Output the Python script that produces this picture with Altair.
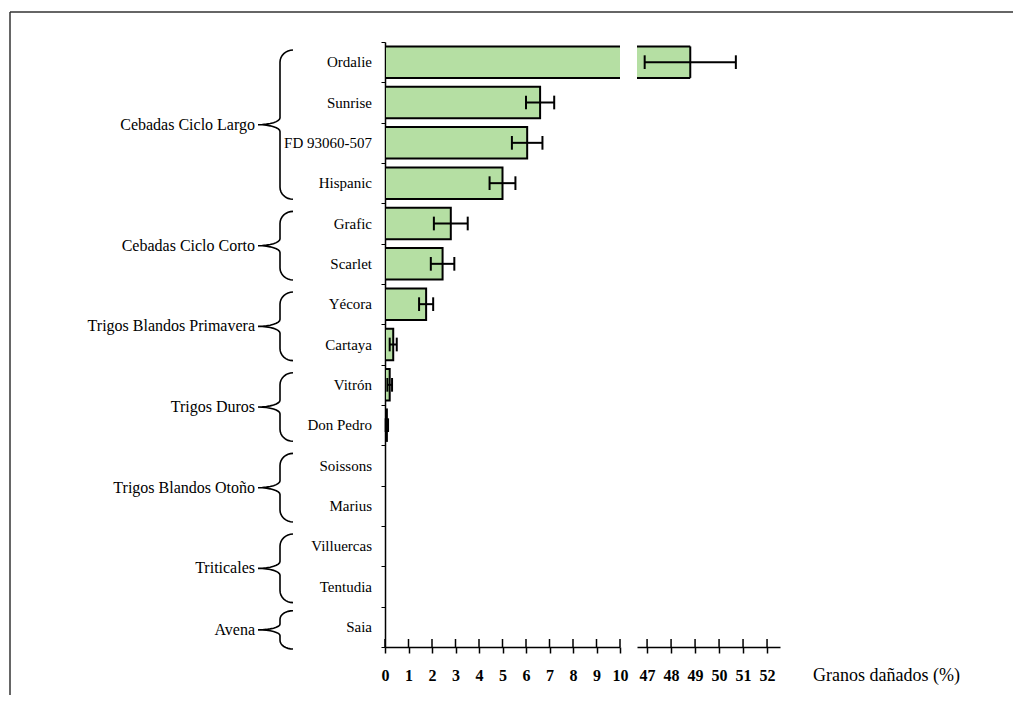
import altair as alt
import pandas as pd
import numpy as np

# ---------------- data ----------------
categories = ["Ordalie", "Sunrise", "FD 93060-507", "Hispanic", "Grafic", "Scarlet",
              "Yécora", "Cartaya", "Vitrón", "Don Pedro", "Soissons", "Marius",
              "Villuercas", "Tentudia", "Saia"]
values = [48.8, 6.6, 6.05, 5.0, 2.8, 2.45, 1.75, 0.35, 0.2, 0.08, 0, 0, 0, 0, 0]
errors = [1.9, 0.6, 0.65, 0.55, 0.72, 0.5, 0.3, 0.15, 0.1, 0.05, 0, 0, 0, 0, 0]
group_names = ["Cebadas Ciclo Largo", "Cebadas Ciclo Corto", "Trigos Blandos Primavera",
               "Trigos Duros", "Trigos Blandos Otoño", "Triticales", "Avena"]
group_sizes = [4, 2, 2, 2, 2, 2, 1]
left_ticks = list(range(0, 11))
right_ticks = list(range(47, 53))
x_title = "Granos dañados (%)"

# ---------------- layout ----------------
L_LO, L_HI = 0, 10
R_LO, R_HI = 46.58, 52.54
H = 605
W0, W1, W2 = 358, 235, 143
FONT = "Liberation Serif, Times New Roman, Times, serif"
GREEN = "#b5dfa3"
N = len(categories)

df = pd.DataFrame({"cat": categories, "val": values, "err": errors})
df["i"] = np.arange(N)
df["y0"] = df.i + 0.11
df["y1"] = df.i + 0.89
df["yc"] = df.i + 0.5
df["c0"] = df.i + 0.33
df["c1"] = df.i + 0.67
df["lo"] = df.val - df.err
df["hi"] = df.val + df.err

yscale = alt.Scale(domain=[0, N], reverse=True, nice=False, zero=False)

# ---------- left panel: group labels + braces + frame ----------
XR, XB, XT = 283, 270, 248
brace_rows = []
group_rows = []
start = 0
for g, n in zip(group_names, group_sizes):
    if n > 1:
        top, bot = start + 0.2, start + n - 0.1
    else:
        top, bot = start + 0.1, start + n + 0.05
    mid = (top + bot) / 2
    half = (bot - top) / 2
    r1 = min(0.3, half * 0.45)
    r2 = min(0.17, half * 0.3)
    pts = []
    for th in np.linspace(0, np.pi / 2, 9):
        pts.append((XR - (XR - XB) * np.sin(th), top + r1 - r1 * np.cos(th)))
    for th in np.linspace(0, np.pi / 2, 9):
        pts.append((XT + (XB - XT) * np.cos(th), mid - r2 + r2 * np.sin(th)))
    lower = [(x, 2 * mid - y) for (x, y) in reversed(pts)]
    pts = pts + lower[1:]
    for k, (x, y) in enumerate(pts):
        brace_rows.append({"g": g, "k": k, "bx": x, "by": y})
    group_rows.append({"g": g, "gy": mid})
    start += n

braces = pd.DataFrame(brace_rows)
groups = pd.DataFrame(group_rows)

bscale = alt.Scale(domain=[0, W0], nice=False, zero=False)

brace_layer = alt.Chart(braces).mark_line(color="black", strokeWidth=1.6).encode(
    x=alt.X("bx:Q", scale=bscale, axis=None),
    y=alt.Y("by:Q", scale=yscale, axis=None),
    detail="g:N",
    order="k:Q",
)
group_text = alt.Chart(groups).mark_text(
    align="right", baseline="middle", font=FONT, fontSize=16, color="black"
).encode(
    x=alt.value(245),
    y=alt.Y("gy:Q", scale=yscale, axis=None),
    text="g:N",
)
frame_df = pd.DataFrame({"f": [0]})
frame_left = alt.Chart(frame_df).mark_rule(color="#333333", strokeWidth=1.5).encode(
    x=alt.value(0), y=alt.value(-30), y2=alt.value(H + 48)
)
frame_top = alt.Chart(frame_df).mark_rule(color="#333333", strokeWidth=1.5).encode(
    x=alt.value(0), x2=alt.value(1003), y=alt.value(-30)
)
p0 = alt.layer(brace_layer, group_text, frame_left, frame_top).properties(width=W0, height=H)

# ---------- middle panel: 0-10 ----------
yaxis = alt.Axis(values=list(range(N + 1)), labels=False, title=None, grid=False,
                 tickSize=4, tickWidth=1, domainWidth=1.5, domainColor="black", tickColor="black")


def xaxis(vals):
    return alt.Axis(values=vals, title=None, grid=False, tickSize=6, tickWidth=1.5,
                    domainWidth=1.5, domainColor="black", tickColor="black",
                    labelFont=FONT, labelFontSize=16, labelFontWeight="bold",
                    labelColor="black", labelPadding=14, labelFlush=False, labelOverlap=False)


xs1 = alt.Scale(domain=[L_LO, L_HI], nice=False, zero=False)
ax1 = xaxis(left_ticks)

d1 = df[df.val > 0].copy()
d1["x0"] = L_LO
bars1 = alt.Chart(d1).mark_rect(fill=GREEN, stroke="black", strokeWidth=2, clip=True).encode(
    x=alt.X("x0:Q", scale=xs1, axis=ax1),
    x2="val:Q",
    y=alt.Y("y0:Q", scale=yscale, axis=yaxis),
    y2="y1:Q",
)
e1 = df[(df.err > 0) & (df.hi <= L_HI)]
err1 = alt.Chart(e1).mark_rule(color="black", strokeWidth=2).encode(
    x=alt.X("lo:Q", scale=xs1, axis=ax1), x2="hi:Q",
    y=alt.Y("yc:Q", scale=yscale, axis=yaxis),
)
caps1 = e1.melt(id_vars=["c0", "c1"], value_vars=["lo", "hi"], value_name="cx")
cap1 = alt.Chart(caps1).mark_rule(color="black", strokeWidth=2).encode(
    x=alt.X("cx:Q", scale=xs1, axis=ax1),
    y=alt.Y("c0:Q", scale=yscale, axis=yaxis), y2="c1:Q",
)
labels = alt.Chart(df).mark_text(
    align="right", baseline="middle", font=FONT, fontSize=15, color="black"
).encode(
    x=alt.value(-13),
    y=alt.Y("yc:Q", scale=yscale, axis=yaxis),
    text="cat:N",
)
tk1 = alt.Chart(pd.DataFrame({"t": left_ticks})).mark_rule(color="black", strokeWidth=1.5).encode(
    x=alt.X("t:Q", scale=xs1, axis=ax1), y=alt.value(H - 8), y2=alt.value(H)
)
p1 = alt.layer(bars1, err1, cap1, labels, tk1).properties(width=W1, height=H)

# ---------- right panel: 47-52 ----------
xs2 = alt.Scale(domain=[R_LO, R_HI], nice=False, zero=False)
ax2 = xaxis(right_ticks)
d2 = df[df.val > L_HI].copy()
d2["x0"] = R_LO
bars2 = alt.Chart(d2).mark_rect(fill=GREEN, strokeWidth=0).encode(
    x=alt.X("x0:Q", scale=xs2, axis=ax2),
    x2="val:Q",
    y=alt.Y("y0:Q", scale=yscale, axis=None),
    y2="y1:Q",
)
edge_tb = d2.melt(id_vars=["x0", "val"], value_vars=["y0", "y1"], value_name="ey")
edges2 = alt.Chart(edge_tb).mark_rule(color="black", strokeWidth=2).encode(
    x=alt.X("x0:Q", scale=xs2, axis=ax2), x2="val:Q",
    y=alt.Y("ey:Q", scale=yscale, axis=None),
)
edge_r = alt.Chart(d2).mark_rule(color="black", strokeWidth=2).encode(
    x=alt.X("val:Q", scale=xs2, axis=ax2),
    y=alt.Y("y0:Q", scale=yscale, axis=None), y2="y1:Q",
)
err2 = alt.Chart(d2).mark_rule(color="black", strokeWidth=2).encode(
    x=alt.X("lo:Q", scale=xs2, axis=ax2), x2="hi:Q",
    y=alt.Y("yc:Q", scale=yscale, axis=None),
)
caps2 = d2.melt(id_vars=["c0", "c1"], value_vars=["lo", "hi"], value_name="cx")
cap2 = alt.Chart(caps2).mark_rule(color="black", strokeWidth=2).encode(
    x=alt.X("cx:Q", scale=xs2, axis=ax2),
    y=alt.Y("c0:Q", scale=yscale, axis=None), y2="c1:Q",
)
tk2 = alt.Chart(pd.DataFrame({"t": right_ticks})).mark_rule(color="black", strokeWidth=1.5).encode(
    x=alt.X("t:Q", scale=xs2, axis=ax2), y=alt.value(H - 8), y2=alt.value(H)
)
title = alt.Chart(pd.DataFrame({"t": [x_title]})).mark_text(
    align="left", baseline="middle", font=FONT, fontSize=18, color="black"
).encode(x=alt.value(176), y=alt.value(H + 29), text="t:N")
p2 = alt.layer(bars2, edges2, edge_r, err2, cap2, tk2, title).properties(width=W2, height=H)

chart = alt.hconcat(p0, p1, p2, spacing=17).properties(
    bounds="flush",
    padding={"left": 1, "top": 3, "right": 0, "bottom": 0},
    background="white",
).configure_view(stroke=None)

chart.save("out.html", embed_options={"renderer": "svg", "actions": False})
